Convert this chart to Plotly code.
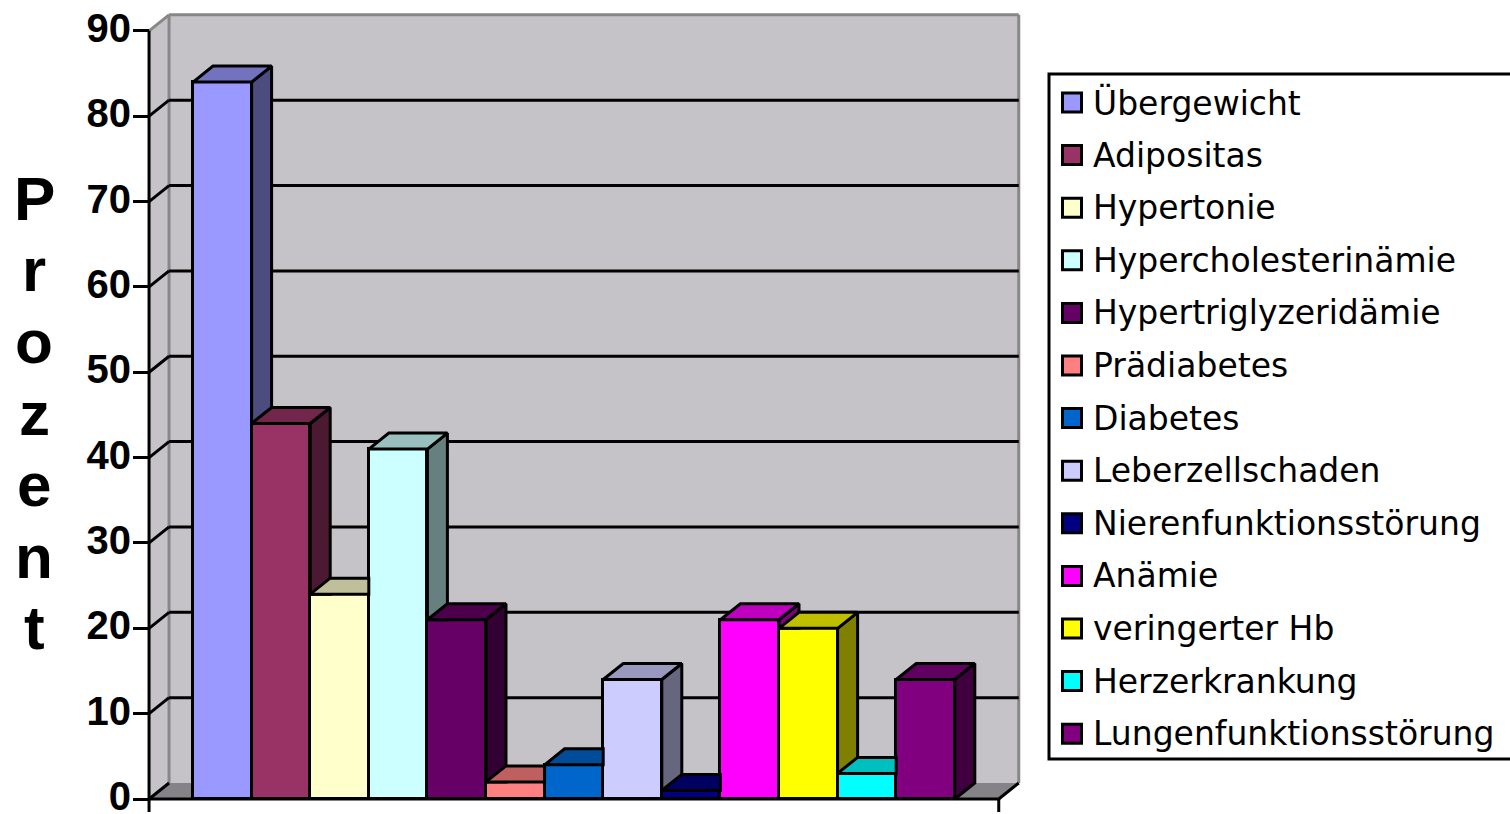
import plotly.graph_objects as go

# ---------------- data ----------------
categories = ["Übergewicht", "Adipositas", "Hypertonie", "Hypercholesterinämie",
              "Hypertriglyzeridämie", "Prädiabetes", "Diabetes", "Leberzellschaden",
              "Nierenfunktionsstörung", "Anämie", "veringerter Hb", "Herzerkrankung",
              "Lungenfunktionsstörung"]
values = [84, 44, 24, 41, 21, 2, 4, 14, 1, 21, 20, 3, 14]
colors = ["#9999FF", "#993366", "#FFFFCC", "#CCFFFF", "#660066", "#FF8080", "#0066CC",
          "#CCCCFF", "#000080", "#FF00FF", "#FFFF00", "#00FFFF", "#800080"]
y_ticks = [0, 10, 20, 30, 40, 50, 60, 70, 80, 90]
y_title = "Prozent"

# ---------------- geometry (pixels) ----------------
W, H = 1510, 814
PX_BAR = 58.6        # pixels per bar slot
X_ORIGIN = 222.3     # pixel of first bar centre
Y_ZERO = 799         # pixel of value 0 (front plane)
PX_UNIT = 8.535      # pixels per value unit
DEPTH_X_PX, DEPTH_Y_PX = 20, 16
XTICK_PX = 13

x_range = [(0 - X_ORIGIN) / PX_BAR, (W - X_ORIGIN) / PX_BAR]
y_range = [(Y_ZERO - H) / PX_UNIT, Y_ZERO / PX_UNIT]
DX = DEPTH_X_PX / PX_BAR
DY = DEPTH_Y_PX / PX_UNIT
n = len(values)
XL = -0.5 - 0.75           # front-left corner of the category axis
XR = (n - 1) + 0.5 + 0.75  # front-right corner
YMAX = y_ticks[-1]

WALL = "#C5C3C7"
FLOOR = "#858387"
EDGE = "#878787"


def shade(hexcol, f):
    h = hexcol.lstrip("#")
    r, g, b = (int(h[k:k + 2], 16) for k in (0, 2, 4))
    return "#%02X%02X%02X" % (int(r * f), int(g * f), int(b * f))


def clip_y_above(poly, c):
    out = []
    m = len(poly)
    for k in range(m):
        P, Q = poly[k], poly[(k + 1) % m]
        pin, qin = P[1] >= c, Q[1] >= c
        if pin:
            out.append(P)
        if pin != qin:
            t = (c - P[1]) / (Q[1] - P[1])
            out.append((P[0] + t * (Q[0] - P[0]), c))
    return out


def poly_path(pts):
    return "M" + " L".join(f"{x},{y}" for x, y in pts) + " Z"


fig = go.Figure()

shapes = []
# floor
shapes.append(dict(type="path", xref="x", yref="y", layer="below",
                   path=poly_path([(XL, 0), (XR, 0), (XR + DX, DY), (XL + DX, DY)]),
                   fillcolor=FLOOR, line=dict(width=0)))
# side wall
shapes.append(dict(type="path", xref="x", yref="y", layer="below",
                   path=poly_path([(XL, 0), (XL, YMAX), (XL + DX, YMAX + DY), (XL + DX, DY)]),
                   fillcolor=WALL, line=dict(width=0)))
# back wall
shapes.append(dict(type="rect", xref="x", yref="y", layer="below",
                   x0=XL + DX, x1=XR + DX, y0=DY, y1=YMAX + DY,
                   fillcolor=WALL, line=dict(width=0)))
# wall edges (grey)
for (a, b) in [((XL, YMAX), (XL + DX, YMAX + DY)),
               ((XL + DX, YMAX + DY), (XR + DX, YMAX + DY)),
               ((XL + DX, DY), (XL + DX, YMAX + DY)),
               ((XR + DX, DY), (XR + DX, YMAX + DY))]:
    shapes.append(dict(type="line", xref="x", yref="y", layer="below",
                       x0=a[0], y0=a[1], x1=b[0], y1=b[1],
                       line=dict(color=EDGE, width=3)))
# gridlines
for t in y_ticks[1:-1]:
    shapes.append(dict(type="line", xref="x", yref="y", layer="below",
                       x0=XL + DX, x1=XR + DX, y0=t + DY, y1=t + DY,
                       line=dict(color="black", width=3)))
    shapes.append(dict(type="line", xref="x", yref="y", layer="below",
                       x0=XL, x1=XL + DX, y0=t, y1=t + DY,
                       line=dict(color="black", width=3)))
# floor diagonals
for xx in (XL, XR):
    shapes.append(dict(type="line", xref="x", yref="y", layer="below",
                       x0=xx, x1=xx + DX, y0=0, y1=DY,
                       line=dict(color="black", width=3)))
# axis lines and category-axis ticks
shapes.append(dict(type="line", xref="x", yref="y", layer="above",
                   x0=XL, x1=XL, y0=0, y1=YMAX, line=dict(color="black", width=3)))
shapes.append(dict(type="line", xref="x", yref="y", layer="above",
                   x0=XL, x1=XR, y0=0, y1=0, line=dict(color="black", width=3)))
for xx in (XL, XR):
    shapes.append(dict(type="line", xref="x", yref="y", layer="above",
                       x0=xx, x1=xx, y0=0, y1=-XTICK_PX / PX_UNIT,
                       line=dict(color="black", width=3)))

# front faces as bars
fig.add_trace(go.Bar(x=list(range(n)), y=values, width=1,
                     marker=dict(color=colors, line=dict(color="black", width=3)),
                     hoverinfo="skip", showlegend=False))

# side and top faces (hidden parts removed, painter's order left to right)
for i, v in enumerate(values):
    L, R = i - 0.5, i + 0.5
    vn = values[i + 1] if i + 1 < n else 0
    side = [(R, 0), (R, v), (R + DX, v + DY), (R + DX, DY)]
    side = clip_y_above(side, vn)
    if len(side) >= 3:
        xs = [p[0] for p in side] + [side[0][0]]
        ys = [p[1] for p in side] + [side[0][1]]
        fig.add_trace(go.Scatter(x=xs, y=ys, mode="lines", fill="toself",
                                 fillcolor=shade(colors[i], 0.5),
                                 line=dict(color="black", width=3),
                                 hoverinfo="skip", showlegend=False))
    t = min(max((vn - v) / DY, 0), 1)
    if t >= 1:
        top = [(L, v), (R, v), (R, v + DY), (L + DX, v + DY)]
    elif t <= 0:
        top = [(L, v), (R, v), (R + DX, v + DY), (L + DX, v + DY)]
    else:
        top = [(L, v), (R, v), (R, v + t * DY), (R + t * DX, v + t * DY),
               (R + DX, v + DY), (L + DX, v + DY)]
    xs = [p[0] for p in top] + [top[0][0]]
    ys = [p[1] for p in top] + [top[0][1]]
    fig.add_trace(go.Scatter(x=xs, y=ys, mode="lines", fill="toself",
                             fillcolor=shade(colors[i], 0.75),
                             line=dict(color="black", width=3),
                             hoverinfo="skip", showlegend=False))

# legend (manual, Excel style)
LEG_L, LEG_T, LEG_B = 1049, 74, 759
LEG_Y0, LEG_STEP = 102.5, 52.6
shapes.append(dict(type="rect", xref="paper", yref="paper",
                   x0=LEG_L / W, x1=1520 / W, y0=1 - LEG_B / H, y1=1 - LEG_T / H,
                   line=dict(color="black", width=3), fillcolor="rgba(0,0,0,0)"))
annotations = []
for i, (name, col) in enumerate(zip(categories, colors)):
    yc = LEG_Y0 + LEG_STEP * i
    shapes.append(dict(type="rect", xref="paper", yref="paper",
                       x0=1062.5 / W, x1=1081.5 / W,
                       y0=1 - (yc + 9.5) / H, y1=1 - (yc - 9.5) / H,
                       fillcolor=col, line=dict(color="black", width=3)))
    annotations.append(dict(xref="paper", yref="paper", x=1091 / W, y=1 - yc / H,
                            xanchor="left", yanchor="middle", showarrow=False,
                            text=name, font=dict(family="DejaVu Sans", size=33, color="black")))

# vertical axis title, letters stacked
TITLE_FS = 62
for k, ch in enumerate(y_title):
    baseline = 220 + 71.6 * k
    yc = baseline - 0.35 * TITLE_FS
    annotations.append(dict(xref="paper", yref="paper", x=34 / W, y=1 - yc / H,
                            xanchor="center", yanchor="middle", showarrow=False,
                            text=ch, font=dict(family="Liberation Sans, Arial", size=TITLE_FS,
                                               color="black", weight="bold")))

fig.update_layout(
    width=W, height=H,
    margin=dict(l=0, r=0, t=0, b=0, autoexpand=False),
    paper_bgcolor="white", plot_bgcolor="white",
    shapes=shapes, annotations=annotations,
    showlegend=False, hovermode=False, bargap=0,
    xaxis=dict(range=x_range, visible=False, fixedrange=True, automargin=False),
    yaxis=dict(range=y_range, anchor="free", position=149 / W, automargin=False,
               tickvals=y_ticks, ticks="outside", ticklen=16, tickwidth=3,
               tickcolor="black", showgrid=False, zeroline=False, showline=False,
               ticklabelstandoff=-6, ticklabeloverflow="allow", ticklabelshift=-3,
               tickfont=dict(family="Liberation Sans, Arial", size=40, color="black",
                             weight="bold"),
               fixedrange=True),
)

fig.write_html("out.html")
